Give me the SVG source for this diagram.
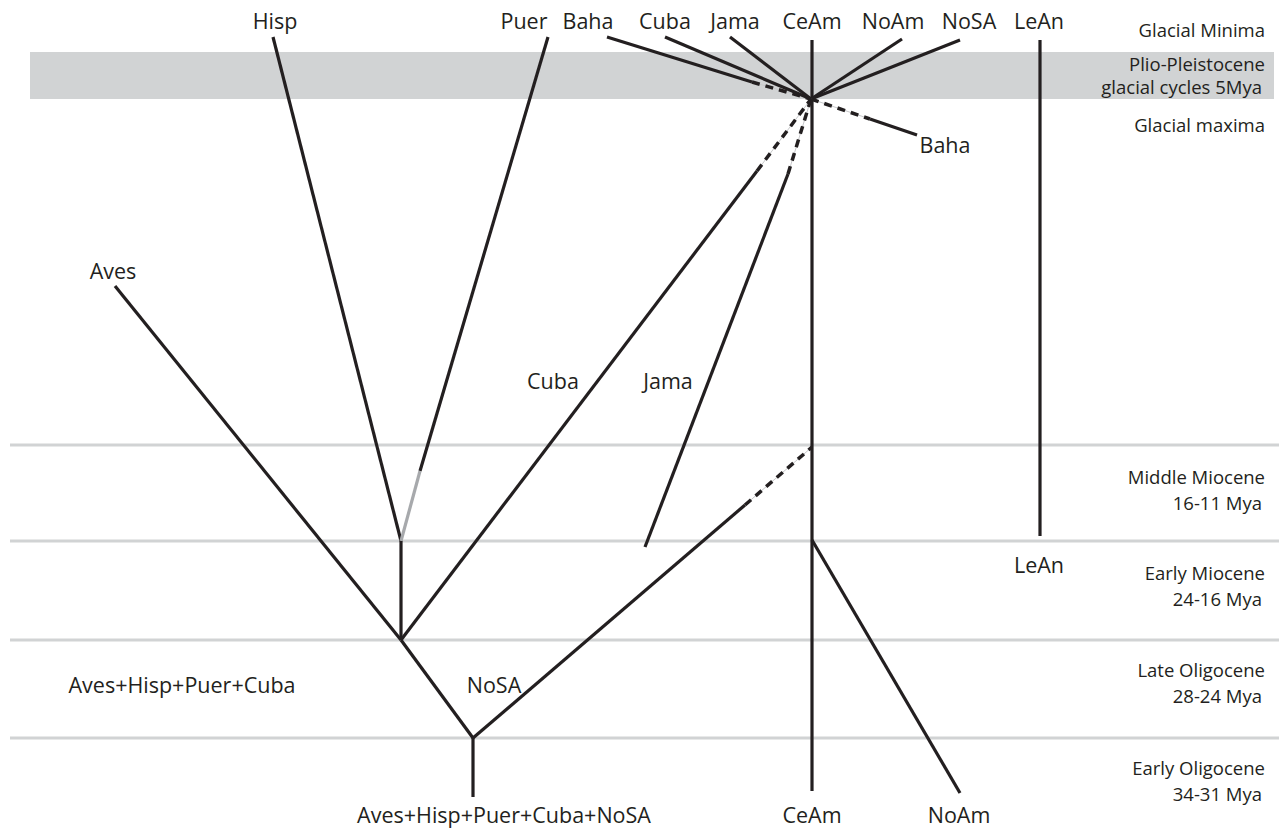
<svg xmlns="http://www.w3.org/2000/svg" width="1279" height="829" viewBox="0 0 1279 829">
  <style>
    .band { fill: #d1d3d4; }
    .epoch { stroke: #d1d3d4; stroke-width: 3; fill: none; }
    .br { stroke: #231f20; stroke-width: 3.2; fill: none; stroke-linecap: butt; }
    .pale { stroke: #a7a9ac; stroke-width: 3.2; fill: none; }
    .guide { stroke: #c7c8ca; stroke-width: 1; fill: none; }
    .dash { stroke: #231f20; stroke-width: 3.5; fill: none; stroke-dasharray: 8 6; }
    .lab { font-family: "Open Sans", "Liberation Sans", sans-serif; font-size: 21.5px; fill: #231f20; text-anchor: middle; }
    .era { font-family: "Open Sans", "Liberation Sans", sans-serif; font-size: 18.5px; fill: #231f20; text-anchor: end; }
  </style>

  <!-- time scale -->
  <g id="timescale">
    <rect class="band" x="30" y="52" width="1244" height="47"/>
    <line class="epoch" x1="10" y1="445" x2="1279" y2="445"/>
    <line class="epoch" x1="10" y1="541" x2="1279" y2="541"/>
    <line class="epoch" x1="10" y1="640" x2="1279" y2="640"/>
    <line class="epoch" x1="10" y1="738" x2="1279" y2="738"/>
    <text class="era" x="1265" y="37">Glacial Minima</text>
    <text class="era" x="1265" y="71">Plio-Pleistocene</text>
    <text class="era" x="1262" y="94">glacial cycles 5Mya</text>
    <text class="era" x="1265" y="132">Glacial maxima</text>
    <text class="era" x="1265" y="484">Middle Miocene</text>
    <text class="era" x="1262" y="510">16-11 Mya</text>
    <text class="era" x="1265" y="580">Early Miocene</text>
    <text class="era" x="1262" y="606">24-16 Mya</text>
    <text class="era" x="1265" y="677">Late Oligocene</text>
    <text class="era" x="1262" y="703">28-24 Mya</text>
    <text class="era" x="1265" y="775">Early Oligocene</text>
    <text class="era" x="1262" y="801">34-31 Mya</text>
  </g>

  <!-- branches -->
  <g id="connectors">
    <!-- western clade -->
    <line class="br" x1="273" y1="37" x2="401" y2="541"/>
    <line class="br" x1="548" y1="37" x2="420" y2="471"/>
    <line class="pale" x1="420" y1="471" x2="401" y2="541"/>
    <line class="br" x1="401" y1="541" x2="401" y2="640"/>
    <line class="br" x1="115" y1="286" x2="401" y2="640"/>
    <line class="br" x1="401" y1="640" x2="473" y2="738"/>
    <line class="br" x1="473" y1="738" x2="473" y2="797"/>

    <!-- Cuba lineage -->
    <line class="br" x1="401" y1="640" x2="757" y2="171"/>
    <line class="guide" x1="757" y1="171" x2="811" y2="99"/>
    <line class="dash" x1="757" y1="171" x2="811" y2="99"/>

    <!-- Jama lineage -->
    <line class="br" x1="645" y1="547" x2="788" y2="174"/>
    <line class="guide" x1="788" y1="174" x2="811" y2="99"/>
    <line class="dash" x1="788" y1="174" x2="811" y2="99"/>

    <!-- NoSA lineage -->
    <line class="br" x1="473" y1="738" x2="745" y2="505"/>
    <line class="guide" x1="745" y1="505" x2="812" y2="447"/>
    <line class="dash" x1="745" y1="505" x2="812" y2="447"/>

    <!-- Central / North America -->
    <line class="br" x1="812" y1="40" x2="812" y2="791"/>
    <line class="br" x1="812" y1="540" x2="960" y2="793"/>

    <!-- Lesser Antilles -->
    <line class="br" x1="1040" y1="40" x2="1040" y2="536"/>

    <!-- glacial-minimum dispersal -->
    <line class="br" x1="607" y1="37" x2="752" y2="82"/>
    <line class="guide" x1="752" y1="82" x2="811" y2="99"/>
    <line class="dash" x1="752" y1="82" x2="811" y2="99"/>
    <line class="br" x1="665" y1="37" x2="811" y2="99"/>
    <line class="br" x1="730" y1="37" x2="811" y2="99"/>
    <line class="br" x1="902" y1="39" x2="811" y2="99"/>
    <line class="br" x1="960" y1="40" x2="811" y2="99"/>

    <!-- glacial-maximum Bahamas -->
    <line class="guide" x1="811" y1="99" x2="870" y2="119"/>
    <line class="dash" x1="811" y1="99" x2="870" y2="119"/>
    <line class="br" x1="870" y1="119" x2="917" y2="135"/>
  </g>

  <!-- area labels -->
  <g id="top-labels">
    <text class="lab" x="275" y="29">Hisp</text>
    <text class="lab" x="524" y="29">Puer</text>
    <text class="lab" x="588" y="29">Baha</text>
    <text class="lab" x="665" y="29">Cuba</text>
    <text class="lab" x="735" y="29">Jama</text>
    <text class="lab" x="812" y="29">CeAm</text>
    <text class="lab" x="893" y="29">NoAm</text>
    <text class="lab" x="969" y="29">NoSA</text>
    <text class="lab" x="1039" y="29">LeAn</text>
  </g>
  <g id="inner-labels">
    <text class="lab" x="945" y="153">Baha</text>
    <text class="lab" x="113" y="279">Aves</text>
    <text class="lab" x="553" y="389">Cuba</text>
    <text class="lab" x="668" y="389">Jama</text>
    <text class="lab" x="1039" y="573">LeAn</text>
    <text class="lab" x="182" y="693">Aves+Hisp+Puer+Cuba</text>
    <text class="lab" x="494" y="693">NoSA</text>
  </g>
  <g id="bottom-labels">
    <text class="lab" x="504" y="823">Aves+Hisp+Puer+Cuba+NoSA</text>
    <text class="lab" x="812" y="823">CeAm</text>
    <text class="lab" x="959" y="823">NoAm</text>
  </g>
</svg>
